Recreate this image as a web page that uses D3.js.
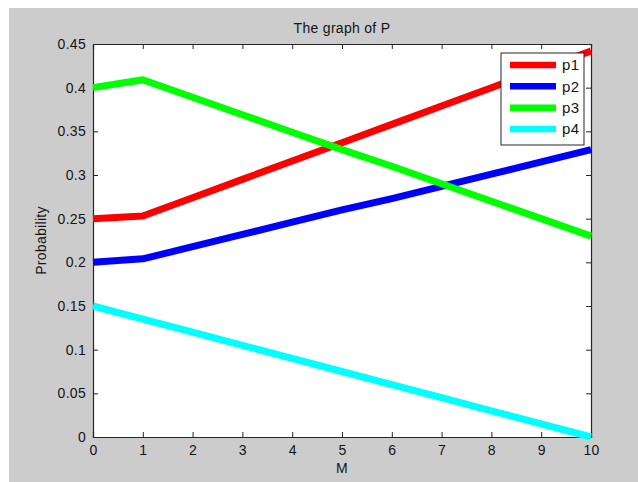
<!DOCTYPE html>
<html>
<head>
<meta charset="utf-8">
<script src="https://cdn.jsdelivr.net/npm/d3@7/dist/d3.min.js"></script>
<style>
  html, body { margin: 0; padding: 0; background: #ffffff; }
  svg text { font-family: Arial, "Liberation Sans", sans-serif; fill: #141414; }
</style>
</head>
<body>
<svg id="chart" width="638" height="482"></svg>
<script>
// Values of M and the four probability series
const mValues = [0, 1, 2, 3, 4, 5, 6, 7, 8, 9, 10];
const p1 = [0.250, 0.253, 0.274, 0.295, 0.316, 0.337, 0.358, 0.379, 0.400, 0.421, 0.442];
const p2 = [0.200, 0.204, 0.218, 0.232, 0.246, 0.260, 0.273, 0.287, 0.301, 0.315, 0.329];
const p3 = [0.400, 0.409, 0.389, 0.369, 0.349, 0.329, 0.310, 0.290, 0.270, 0.250, 0.230];
const p4 = [0.150, 0.135, 0.120, 0.105, 0.090, 0.075, 0.060, 0.045, 0.030, 0.015, 0.000];
const seriesNames = ["p1", "p2", "p3", "p4"];
const seriesColors = ["#ff0000", "#0000ff", "#00ff00", "#00ffff"];
const xTicks = [0, 1, 2, 3, 4, 5, 6, 7, 8, 9, 10];
const yTicks = [0, 0.05, 0.1, 0.15, 0.2, 0.25, 0.3, 0.35, 0.4, 0.45];

const series = [p1, p2, p3, p4].map((vals, i) => ({
  name: seriesNames[i],
  color: seriesColors[i],
  points: vals.map((v, j) => ({ m: mValues[j], p: v }))
}));

const svg = d3.select("#chart");
const W = 638, H = 482;
const box = { left: 93, right: 591, top: 44, bottom: 437 };

// figure background
svg.append("rect").attr("x", 9).attr("y", 8).attr("width", W - 9).attr("height", H - 8)
  .attr("fill", "#cccccc");

const x = d3.scaleLinear().domain([0, 10]).range([box.left, box.right]);
const y = d3.scaleLinear().domain([0, 0.45]).range([box.bottom, box.top]);

// plot area
svg.append("rect")
  .attr("x", box.left).attr("y", box.top)
  .attr("width", box.right - box.left).attr("height", box.bottom - box.top)
  .attr("fill", "#ffffff");

const tickFmt = d => d3.format("")(+d.toFixed(2));
const tickLen = 5;

// axes with inward ticks on all four sides
const bottomAxis = svg.append("g").attr("transform", `translate(0,${box.bottom})`)
  .call(d3.axisBottom(x).tickValues(xTicks).tickSize(-tickLen).tickPadding(8).tickFormat(d3.format("d")));
const topAxis = svg.append("g").attr("transform", `translate(0,${box.top})`)
  .call(d3.axisTop(x).tickValues(xTicks).tickSize(-tickLen).tickFormat(""));
const leftAxis = svg.append("g").attr("transform", `translate(${box.left},0)`)
  .call(d3.axisLeft(y).tickValues(yTicks).tickSize(-tickLen).tickPadding(7).tickFormat(tickFmt));
const rightAxis = svg.append("g").attr("transform", `translate(${box.right},0)`)
  .call(d3.axisRight(y).tickValues(yTicks).tickSize(-tickLen).tickFormat(""));

[bottomAxis, topAxis, leftAxis, rightAxis].forEach(g => {
  g.select(".domain").attr("stroke", "#262626").attr("stroke-width", 1.2);
  g.selectAll(".tick line").attr("stroke", "#262626").attr("stroke-width", 1);
  g.selectAll(".tick text")
    .style("font-size", "14px").style("letter-spacing", "0.3px").attr("fill", "#141414");
});
bottomAxis.selectAll(".tick text").attr("dy", "0.71em");

// series lines
const line = d3.line().x(d => x(d.m)).y(d => y(d.p));
svg.append("g").selectAll("path").data(series).join("path")
  .attr("d", d => line(d.points))
  .attr("fill", "none")
  .attr("stroke", d => d.color)
  .attr("stroke-width", 7)
  .attr("stroke-linejoin", "round");

// title and axis labels
svg.append("text").attr("x", (box.left + box.right) / 2).attr("y", 33)
  .attr("text-anchor", "middle").style("font-size", "14px").style("letter-spacing", "0.3px")
  .text("The graph of P");
svg.append("text").attr("x", (box.left + box.right) / 2).attr("y", 473)
  .attr("text-anchor", "middle").style("font-size", "14px").style("letter-spacing", "0.3px")
  .text("M");
svg.append("text")
  .attr("transform", `translate(46,${(box.top + box.bottom) / 2}) rotate(-90)`)
  .attr("text-anchor", "middle").style("font-size", "14px").style("letter-spacing", "0.3px")
  .text("Probability");

// legend
const legend = svg.append("g");
legend.append("rect").attr("x", 501).attr("y", 53).attr("width", 83).attr("height", 92)
  .attr("fill", "#ffffff").attr("stroke", "#262626").attr("stroke-width", 1);
const rowY = d3.scalePoint().domain(seriesNames).range([65, 129]);
const items = legend.selectAll("g.item").data(series).join("g").attr("class", "item")
  .attr("transform", d => `translate(0,${rowY(d.name)})`);
items.append("line").attr("x1", 510).attr("x2", 556).attr("y1", 0).attr("y2", 0)
  .attr("stroke", d => d.color).attr("stroke-width", 6.5);
items.append("text").attr("x", 562).attr("y", 0).attr("dy", "0.35em")
  .style("font-size", "15px").style("letter-spacing", "0.3px")
  .text(d => d.name);
</script>
</body>
</html>
